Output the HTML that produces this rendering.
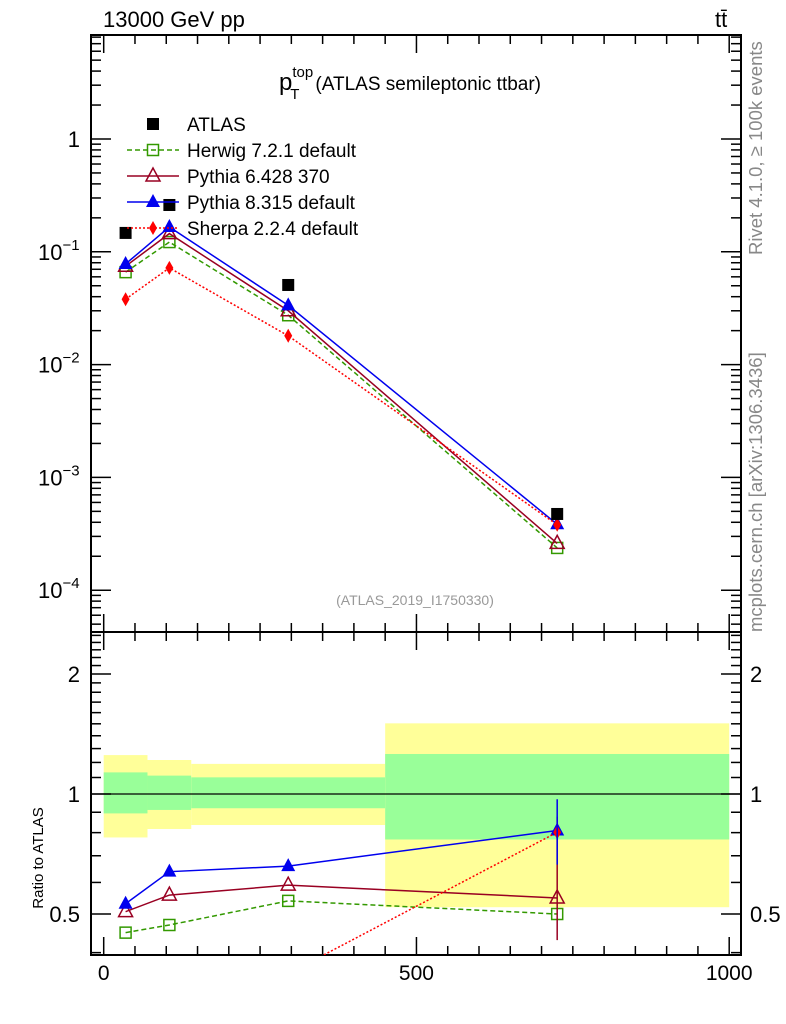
<!DOCTYPE html>
<html><head><meta charset="utf-8"><style>
body{margin:0;background:#fff}
svg{display:block;font-family:"Liberation Sans",sans-serif}
</style></head><body>
<svg id="c" width="786" height="1024" viewBox="0 0 786 1024">
<text x="103" y="27" font-size="22">13000 GeV pp</text>
<text x="715" y="27" font-size="22">tt̄</text>
<text x="279" y="90" font-size="24">p<tspan font-size="15" dy="-13">top</tspan><tspan font-size="15" dx="-23" dy="22">T</tspan><tspan font-size="19" dx="16" dy="-9">(ATLAS semileptonic ttbar)</tspan></text>
<text x="415" y="605" font-size="14" fill="#999" text-anchor="middle">(ATLAS_2019_I1750330)</text>
<text transform="translate(762,255) rotate(-90)" font-size="18.5" fill="#888">Rivet 4.1.0, ≥ 100k events</text>
<text transform="translate(762,632) rotate(-90)" font-size="18.5" fill="#888">mcplots.cern.ch [arXiv:1306.3436]</text>
<text transform="translate(43,858) rotate(-90)" font-size="15" text-anchor="middle">Ratio to ATLAS</text>
<g id="g"></g>
</svg>
<script>
const binLo=[0,70,140,450];
const binHi=[70,140,450,1000];
const xc=[35,105,295,725];
const atlas=[0.147,0.26,0.0508,4.74e-4];
const herwig=[0.066,0.122,0.0274,2.37e-4];
const py6=[0.0745,0.145,0.030,2.6e-4];
const py8=[0.078,0.166,0.0335,3.84e-4];
const sherpa=[0.038,0.072,0.018,3.8e-4];
const yelLo=[0.778,0.817,0.836,0.52];
const yelHi=[1.252,1.217,1.19,1.504];
const grnLo=[0.894,0.912,0.921,0.769];
const grnHi=[1.133,1.112,1.101,1.26];
const xTicks=[0,500,1000];
const yTicks=[1,0.1,0.01,0.001,0.0001];
const yTickExp=["","−1","−2","−3","−4"];
const rTicks=[0.5,1,2];

const NS="http://www.w3.org/2000/svg";
const G=document.getElementById('g');
function el(t,a,p){const e=document.createElementNS(NS,t);for(const k in a)e.setAttribute(k,a[k]);(p||G).appendChild(e);return e;}
const L=91,R=741,T=35,M=632,B=955;
const X=v=>103.7+v*0.6255;
const Y=v=>139-Math.log10(v)*112.8;
const RY=v=>794-Math.log2(v)*120;

for(let i=0;i<binLo.length;i++){
  let r=el('rect',{x:X(binLo[i]),y:RY(yelHi[i]),width:X(binHi[i])-X(binLo[i]),height:RY(yelLo[i])-RY(yelHi[i]),fill:'#ffff99'});
  
  
  r=el('rect',{x:X(binLo[i]),y:RY(grnHi[i]),width:X(binHi[i])-X(binLo[i]),height:RY(grnLo[i])-RY(grnHi[i]),fill:'#99ff99'});
  
  
}
el('line',{x1:L,x2:R,y1:RY(1),y2:RY(1),stroke:'#000','stroke-width':1.3});

el('rect',{x:L,y:T,width:R-L,height:M-T,fill:'none',stroke:'#000','stroke-width':2});
el('rect',{x:L,y:M,width:R-L,height:B-M,fill:'none',stroke:'#000','stroke-width':2});
for(let v=0;v<=1000;v+=50){
  const big=v%500===0, len=big?18:9;
  [T,M].forEach(y=>el('line',{x1:X(v),x2:X(v),y1:y,y2:y+len,stroke:'#000','stroke-width':1.5}));
  [M,B].forEach(y=>el('line',{x1:X(v),x2:X(v),y1:y,y2:y-len,stroke:'#000','stroke-width':1.5}));
}
xTicks.forEach(v=>{const t=el('text',{x:X(v),y:980,'font-size':21,'text-anchor':'middle'});t.textContent=v;

});
for(let d=-5;d<=0;d++)for(let m=1;m<10;m++){
  const v=m*Math.pow(10,d),y=Y(v); if(y<T||y>M)continue;
  const len=m===1?20:10;
  el('line',{x1:L,x2:L+len,y1:y,y2:y,stroke:'#000','stroke-width':1.5});
  el('line',{x1:R,x2:R-len,y1:y,y2:y,stroke:'#000','stroke-width':1.5});
}
yTicks.forEach((v,i)=>{
  let t;
  if(yTickExp[i]===""){t=el('text',{x:80,y:Y(v)+8,'font-size':22,'text-anchor':'end'});t.textContent='1';}
  else{t=el('text',{x:38,y:Y(v)+8,'font-size':22});t.textContent='10';
    const s=el('tspan',{'font-size':15,dy:-10},t);s.textContent=yTickExp[i];}
  
  
});
for(let v=0.4;v<2.6;v+=0.1){const y=RY(v);if(y<M||y>B)continue;
  const big=[0.5,1,2].some(t=>Math.abs(t-v)<1e-6),len=big?20:10;
  el('line',{x1:L,x2:L+len,y1:y,y2:y,stroke:'#000','stroke-width':1.5});
  el('line',{x1:R,x2:R-len,y1:y,y2:y,stroke:'#000','stroke-width':1.5});
}
rTicks.forEach(v=>{
  let t=el('text',{x:80,y:RY(v)+8,'font-size':22,'text-anchor':'end'});t.textContent=v;
  
  
  t=el('text',{x:750,y:RY(v)+8,'font-size':22});t.textContent=v;
  
  
});

function marker(type,x,y,c){
  if(type==='sq')return el('rect',{x:x-6,y:y-6,width:12,height:12,fill:'#000'});
  if(type==='osq')return el('rect',{x:x-5.5,y:y-5.5,width:11,height:11,fill:'none',stroke:c,'stroke-width':1.5});
  if(type==='otri')return el('path',{d:`M${x} ${y-8}L${x+7} ${y+5}L${x-7} ${y+5}Z`,fill:'none',stroke:c,'stroke-width':1.5});
  if(type==='tri')return el('path',{d:`M${x} ${y-8}L${x+7} ${y+5}L${x-7} ${y+5}Z`,fill:c});
  if(type==='dia')return el('path',{d:`M${x} ${y-7}L${x+4} ${y}L${x} ${y+7}L${x-4} ${y}Z`,fill:c});
}
const series=[
 {name:'herwig',vals:herwig,c:'#339900',dash:'5,3',m:'osq',label:'Herwig 7.2.1 default'},
 {name:'pythia6',vals:py6,c:'#990022',dash:'',m:'otri',label:'Pythia 6.428 370'},
 {name:'pythia8',vals:py8,c:'#0000ee',dash:'',m:'tri',label:'Pythia 8.315 default'},
 {name:'sherpa',vals:sherpa,c:'#ff0000',dash:'2,2',m:'dia',label:'Sherpa 2.2.4 default'}
];
const cp=el('clipPath',{id:'rc'});el('rect',{x:L,y:M,width:R-L,height:B-M},cp);
series.forEach(s=>{
  const pts=s.vals.map((v,i)=>X(xc[i])+','+Y(v)).join(' ');
  let p=el('polyline',{points:pts,fill:'none',stroke:s.c,'stroke-width':1.5,'stroke-dasharray':s.dash});
  
  
  s.vals.forEach((v,i)=>{const m=marker(s.m,X(xc[i]),Y(v),s.c);
    
    });
  const rpts=s.vals.map((v,i)=>X(xc[i])+','+RY(v/atlas[i])).join(' ');
  const g=el('g',{'clip-path':'url(#rc)'});
  p=el('polyline',{points:rpts,fill:'none',stroke:s.c,'stroke-width':1.5,'stroke-dasharray':s.dash},g);
  
  
  s.vals.forEach((v,i)=>{const m=marker(s.m,X(xc[i]),RY(v/atlas[i]),s.c);g.appendChild(m);
    
    });
});
el('line',{x1:X(725),x2:X(725),y1:RY(0.877),y2:RY(0.43),stroke:'#990022','stroke-width':1.5});
el('line',{x1:X(725),x2:X(725),y1:RY(0.97),y2:RY(0.665),stroke:'#0000ee','stroke-width':1.5});
atlas.forEach((v,i)=>{const m=marker('sq',X(xc[i]),Y(v));
  
  });

const lx=153,ly=[124,150,176,202,228];
let m=marker('sq',lx,ly[0]);


let t=el('text',{x:187,y:ly[0]+7,'font-size':19});t.textContent='ATLAS';


series.forEach((s,i)=>{const y=ly[i+1];
  el('line',{x1:127,x2:179,y1:y,y2:y,stroke:s.c,'stroke-width':1.5,'stroke-dasharray':s.dash});
  const mk=marker(s.m,lx,y,s.c);
  
  
  const tx=el('text',{x:187,y:y+7,'font-size':19});tx.textContent=s.label;
  
  
});
</script>
</body></html>
